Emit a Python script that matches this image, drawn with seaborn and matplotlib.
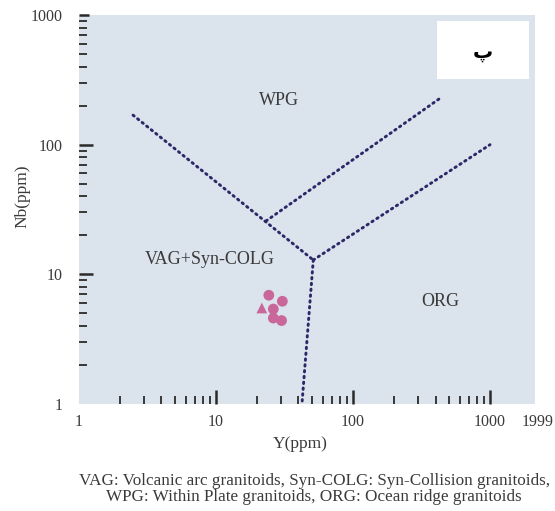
import matplotlib
matplotlib.use("Agg")
import matplotlib.pyplot as plt
import matplotlib.transforms as mtransforms
from matplotlib.patches import Rectangle
from matplotlib.ticker import FixedLocator, NullFormatter
import pandas as pd
import seaborn as sns

# Sample analyses (ppm)
y_ppm = [24.3, 30.5, 26.2, 26.2, 30.1, 21.6]
nb_ppm = [6.9, 6.2, 5.4, 4.6, 4.4, 5.5]
sample_kind = ["circle", "circle", "circle", "circle", "circle", "triangle"]

# Discrimination boundaries (Y, Nb end points of each segment)
boundary_y = [[2.48, 51.3], [23.2, 424.0], [51.3, 1000.0], [51.3, 42.4]]
boundary_nb = [[169.0, 12.9], [25.8, 225.0], [12.9, 100.0], [12.9, 1.0]]

x_ticks = [1, 10, 100, 1000, 1999]
x_tick_labels = ["1", "10", "100", "1000", "1999"]
y_ticks = [1, 10, 100, 1000]
y_tick_labels = ["1", "10", "100", "1000"]

field_names = ["WPG", "VAG+Syn-COLG", "ORG"]
caption_lines = [
    "VAG: Volcanic arc granitoids, Syn-COLG: Syn-Collision granitoids,",
    "WPG: Within Plate granitoids, ORG: Ocean ridge granitoids",
]
panel_letter = "پ"

sns.set_style("white")
plt.rcParams["font.family"] = ["Liberation Serif", "DejaVu Sans"]

text_col = "#3a3a3a"
line_col = "#2c2868"
point_col = "#c9669a"

fig = plt.figure(figsize=(5.55, 5.11), dpi=100)
ax = fig.add_axes([0.1423, 0.2094, 0.8217, 0.7612])
ax.set_facecolor("#dbe3ec")
for sp in ax.spines.values():
    sp.set_visible(False)

ax.set_xscale("log")
ax.set_yscale("log")
ax.set_xlim(1, 2130)
ax.set_ylim(1, 1000)

# Boundary lines
for bx, by in zip(boundary_y, boundary_nb):
    seg = pd.DataFrame({"Y": bx, "Nb": by})
    sns.lineplot(data=seg, x="Y", y="Nb", sort=False, estimator=None, ax=ax,
                 color=line_col, linewidth=2.1, linestyle=(0, (0.5, 1.5)),
                 dash_capstyle="round", zorder=3)

# Samples
samples = pd.DataFrame({"Y": y_ppm, "Nb": nb_ppm, "kind": sample_kind})
sns.scatterplot(data=samples, x="Y", y="Nb", style="kind",
                markers={"circle": "o", "triangle": "^"}, s=60,
                color=point_col, edgecolor="none", legend=False, ax=ax, zorder=4)

# Field names
fs_field = 13
ax.text(28.8, 221, field_names[0], ha="center", va="center", fontsize=fs_field, color=text_col)
ax.text(9.0, 13.1, field_names[1], ha="center", va="center", fontsize=fs_field, color=text_col)
ax.text(432, 6.2, field_names[2], ha="center", va="center", fontsize=fs_field, color=text_col)

# Panel letter box
ax.add_patch(Rectangle((0.785, 0.835), 0.202, 0.150, transform=ax.transAxes,
                       facecolor="white", edgecolor="none", zorder=5))
ax.text(0.886, 0.903, panel_letter, transform=ax.transAxes, ha="center", va="center",
        fontsize=14.5, fontweight="bold", family=["DejaVu Sans"], color="black", zorder=6)

# Ticks
minor_vals = [k * 10 ** d for d in range(3) for k in range(2, 10)]
ax.xaxis.set_major_locator(FixedLocator(x_ticks))
ax.set_xticklabels(x_tick_labels)
ax.xaxis.set_minor_locator(FixedLocator(minor_vals))
ax.xaxis.set_minor_formatter(NullFormatter())
ax.yaxis.set_major_locator(FixedLocator(y_ticks))
ax.set_yticklabels(y_tick_labels)
ax.yaxis.set_minor_locator(FixedLocator(minor_vals))
ax.yaxis.set_minor_formatter(NullFormatter())

ax.tick_params(axis="both", which="major", direction="in", length=10, width=1.8,
               color="#2a2a2a", labelsize=11.5, labelcolor=text_col,
               bottom=True, left=True, top=False, right=False)
ax.tick_params(axis="both", which="minor", direction="in", length=6, width=1.3,
               color="#2a2a2a", bottom=True, left=True, top=False, right=False)
ax.tick_params(axis="y", which="major", pad=12)
ax.tick_params(axis="x", which="major", pad=7)

# No tick marks at the frame ends, only their labels
xmajor = ax.xaxis.get_major_ticks()
ymajor = ax.yaxis.get_major_ticks()
for t in (xmajor[0], xmajor[-1], ymajor[0]):
    t.tick1line.set_visible(False)
ymajor[-1].tick1line.set_markersize(7)

last = ax.get_xticklabels()[-1]
last.set_transform(last.get_transform() + mtransforms.ScaledTranslation(6 / 100, 0, fig.dpi_scale_trans))

ax.set_xlabel("Y(ppm)", fontsize=12.5, color=text_col)
ax.set_ylabel("Nb(ppm)", fontsize=12.5, color=text_col)
ax.xaxis.set_label_coords(0.485, -0.082)
ax.yaxis.set_label_coords(-0.107, 0.535)

fig.text(0.567, 1 - 481 / 511, caption_lines[0], ha="center", va="center",
         fontsize=12.3, color=text_col)
fig.text(0.566, 1 - 497 / 511, caption_lines[1], ha="center", va="center",
         fontsize=12.3, color=text_col)

fig.savefig("out.png", dpi=100, facecolor="white")
